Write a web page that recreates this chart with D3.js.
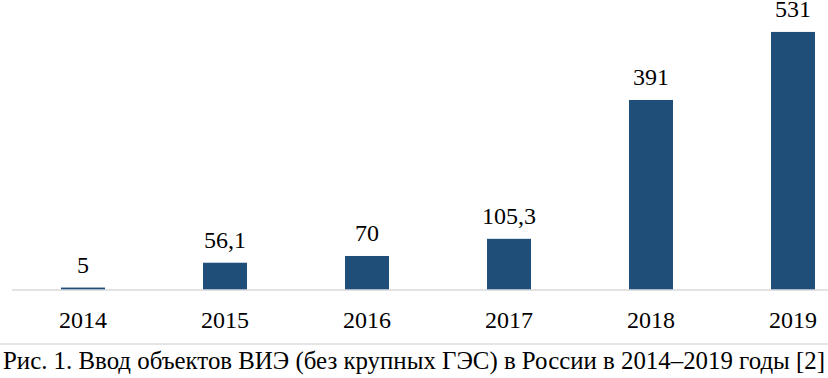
<!DOCTYPE html>
<html lang="ru">
<head>
<meta charset="UTF-8">
<title>ВИЭ</title>
<style>
	body { margin: 0; background: #fff; }
	svg { display: block; }
	svg text { font-family: "Liberation Serif", "Times New Roman", serif; }
</style>
</head>
<body>
<svg id="cont" width="828" height="378"></svg>
<script src="https://cdn.jsdelivr.net/npm/d3@7"></script>
<script>
	// данные
	let years = ["2014", "2015", "2016", "2017", "2018", "2019"];
	let values = [5, 56.1, 70, 105.3, 391, 531];
	let labels = ["5", "56,1", "70", "105,3", "391", "531"];
	let caption = "Рис. 1. Ввод объектов ВИЭ (без крупных ГЭС) в России в 2014–2019 годы [2]";

	let svg = d3.select("#cont");
	let base = 290;

	let x = d3.scaleBand()
		.domain(years)
		.range([12, 864])
		.paddingInner(0.69)
		.paddingOuter(0.345);

	let y = d3.scaleLinear()
		.domain([0, 600])
		.range([base, -1.6]);

	let data = years.map((d, i) => ({year: d, v: values[i], label: labels[i]}));

	svg.selectAll("rect.bar")
		.data(data)
		.enter()
		.append("rect")
		.attr("class", "bar")
		.attr("fill", "#1f4e79")
		.attr("x", d => x(d.year))
		.attr("width", x.bandwidth())
		.attr("y", d => y(d.v))
		.attr("height", d => base - y(d.v));

	// ось X
	let xaxis = d3.axisBottom(x).tickSize(0).tickPadding(21);
	let gx = svg.append("g")
		.attr("transform", "translate(0," + base + ")")
		.call(xaxis);
	gx.select(".domain").attr("stroke", "#d9d9d9").attr("stroke-width", 1.5).attr("d", "M12,0H828");
	gx.selectAll("text")
		.attr("font-size", 24)
		.attr("fill", "#000")
		.attr("dy", "0.71em");

	// подписи значений
	svg.selectAll("text.val")
		.data(data)
		.enter()
		.append("text")
		.attr("class", "val")
		.attr("x", d => x(d.year) + x.bandwidth() / 2)
		.attr("y", d => y(d.v) - 15)
		.attr("text-anchor", "middle")
		.attr("font-size", 24)
		.attr("fill", "#000")
		.text(d => d.label);

	// разделитель и подпись рисунка
	svg.append("line")
		.attr("x1", 0).attr("x2", 828)
		.attr("y1", 344).attr("y2", 344)
		.attr("stroke", "#dcdcdc").attr("stroke-width", 1.5);

	svg.append("text")
		.attr("x", 3)
		.attr("y", 369)
		.attr("font-size", 25)
		.attr("fill", "#000")
		.attr("textLength", 822)
		.attr("lengthAdjust", "spacingAndGlyphs")
		.text(caption);
</script>
</body>
</html>
